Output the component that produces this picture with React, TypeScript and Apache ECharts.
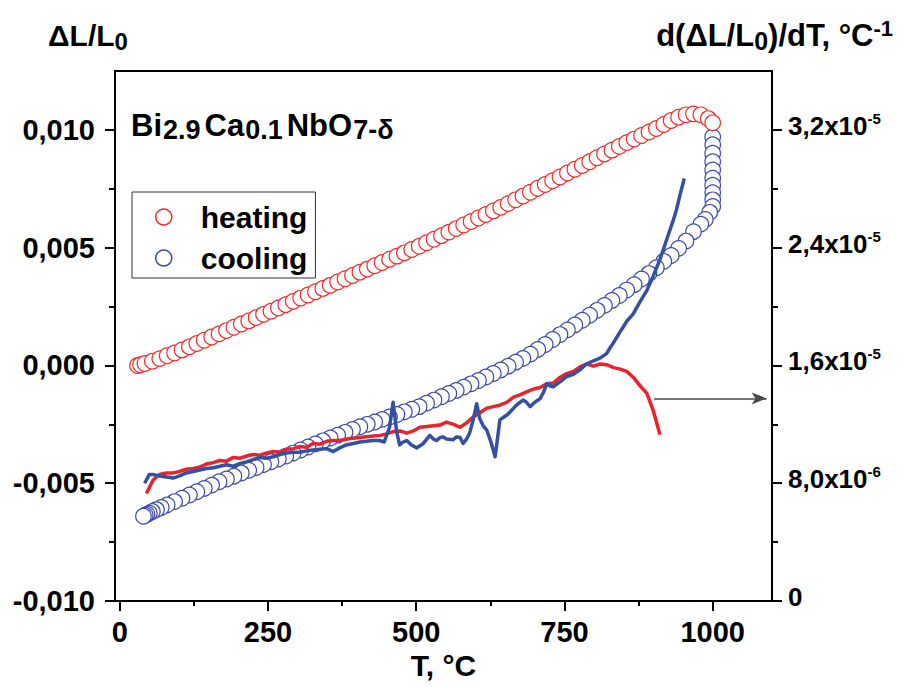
import React, { useEffect, useRef } from 'react';
import * as echarts from 'echarts';

const F = '"Liberation Sans", Arial, Helvetica, sans-serif';

// Heating: dilatometric curve ΔL/L0 (red open circles)
const heatingT = [30, 35, 42.5, 55, 67.5, 80, 92.5, 105, 117.5, 130, 142.5, 155, 167.5, 180, 192.5, 205, 217.5, 230, 242.5, 255, 267.5, 280, 292.5, 305, 317.5, 330, 342.5, 355, 367.5, 380, 392.5, 405, 417.5, 430, 442.5, 455, 467.5, 480, 492.5, 505, 517.5, 530, 542.5, 555, 567.5, 580, 592.5, 605, 617.5, 630, 642.5, 655, 667.5, 680, 692.5, 705, 717.5, 730, 742.5, 755, 767.5, 780, 792.5, 805, 817.5, 830, 842.5, 855, 867.5, 880, 892.5, 905, 917.5, 930, 942.5, 955, 967.5, 980, 992.5, 1000];
const heatingDL = [0, 0.00003, 0.00008, 0.00018, 0.00029, 0.00041, 0.00053, 0.00066, 0.00079, 0.00093, 0.00107, 0.00121, 0.00134, 0.00148, 0.00162, 0.00176, 0.00189, 0.00203, 0.00217, 0.0023, 0.00244, 0.00258, 0.00272, 0.00286, 0.00299, 0.00313, 0.00327, 0.0034, 0.00354, 0.00368, 0.00382, 0.00396, 0.00409, 0.00423, 0.00437, 0.00451, 0.00464, 0.00478, 0.00492, 0.00506, 0.00521, 0.00536, 0.00551, 0.00566, 0.00581, 0.00596, 0.00611, 0.00626, 0.00641, 0.00656, 0.00671, 0.00687, 0.00703, 0.00719, 0.00735, 0.00752, 0.00768, 0.00784, 0.008, 0.00817, 0.00833, 0.00849, 0.00865, 0.00882, 0.00898, 0.00914, 0.0093, 0.00946, 0.00961, 0.00976, 0.00991, 0.01006, 0.01023, 0.0104, 0.01054, 0.01064, 0.01068, 0.01064, 0.01048, 0.0103];

// Cooling: dilatometric curve ΔL/L0 (blue open circles), from 1000 °C down
const coolingT = [1000, 1000, 1000, 1000, 1000, 1000, 1000, 1000, 1000, 1000, 995, 987.5, 980, 967.5, 955, 942.5, 930, 917.5, 905, 892.5, 880, 867.5, 855, 842.5, 830, 817.5, 805, 792.5, 780, 767.5, 755, 742.5, 730, 717.5, 705, 692.5, 680, 667.5, 655, 642.5, 630, 617.5, 605, 592.5, 580, 567.5, 555, 542.5, 530, 517.5, 505, 492.5, 480, 467.5, 455, 442.5, 430, 417.5, 405, 392.5, 380, 367.5, 355, 342.5, 330, 317.5, 305, 292.5, 280, 267.5, 255, 242.5, 230, 217.5, 205, 192.5, 180, 167.5, 155, 142.5, 130, 117.5, 105, 92.5, 80, 70, 62, 55, 50, 46, 43, 40];
const coolingDL = [0.0097, 0.00937, 0.00901, 0.00865, 0.0083, 0.00795, 0.00765, 0.00733, 0.00703, 0.00675, 0.0065, 0.0062, 0.006, 0.00568, 0.00528, 0.00497, 0.00467, 0.00442, 0.00415, 0.0039, 0.00367, 0.00343, 0.0032, 0.00297, 0.00276, 0.00255, 0.00234, 0.00213, 0.00192, 0.00172, 0.00151, 0.00131, 0.0011, 0.00089, 0.00068, 0.00048, 0.0003, 0.00014, -0.00003, -0.00019, -0.00034, -0.00049, -0.00064, -0.00078, -0.00092, -0.00106, -0.00119, -0.00133, -0.00147, -0.0016, -0.00175, -0.00186, -0.00197, -0.00208, -0.00219, -0.00229, -0.0024, -0.0025, -0.0026, -0.00272, -0.00284, -0.00296, -0.00308, -0.0032, -0.00333, -0.00346, -0.00359, -0.00372, -0.00385, -0.00397, -0.00409, -0.00421, -0.00433, -0.00445, -0.00457, -0.0047, -0.00482, -0.00494, -0.00508, -0.00522, -0.00536, -0.0055, -0.00564, -0.00578, -0.00592, -0.00603, -0.00612, -0.0062, -0.00627, -0.00632, -0.00636, -0.0064];

// Derivatives d(ΔL/L0)/dT in units of 1e-6 °C^-1 (right axis)
const derivHeatT = [45, 56, 67, 79, 90, 101, 112, 124, 135, 146, 158, 169, 180, 191, 203, 214, 225, 236, 248, 259, 270, 281, 293, 304, 315, 326, 338, 349, 360, 371, 383, 394, 405, 416, 428, 439, 450, 461, 473, 484, 495, 506, 518, 529, 540, 551, 563, 574, 585, 596, 608, 619, 630, 641, 653, 664, 675, 686, 698, 709, 720, 731, 743, 754, 765, 776, 788, 799, 810, 821, 833, 844, 855, 866, 878, 889, 900, 911];
const derivHeat = [7.3, 8.2, 8.6, 8.7, 8.7, 8.8, 8.95, 9.0, 9.1, 9.3, 9.4, 9.55, 9.5, 9.75, 9.7, 9.85, 9.95, 9.9, 10.05, 10.15, 10.1, 10.3, 10.35, 10.5, 10.45, 10.7, 10.65, 10.85, 10.9, 10.9, 11.0, 11.05, 11.1, 11.15, 11.2, 11.25, 11.35, 11.5, 11.55, 11.4, 11.55, 11.8, 11.85, 11.9, 11.95, 12.15, 12.0, 11.8, 12.1, 12.5, 12.8, 13.1, 13.2, 13.3, 13.5, 13.85, 14.0, 14.2, 14.4, 14.5, 14.75, 14.8, 15.2, 15.45, 15.6, 15.9, 16.1, 15.95, 16.1, 16.05, 15.85, 15.75, 15.6, 15.2, 14.6, 14.1, 12.9, 11.3];

const derivCoolT = [42, 50, 56, 65, 73, 82, 90, 101, 112, 124, 135, 146, 158, 169, 180, 191, 203, 214, 225, 236, 248, 259, 270, 281, 293, 304, 315, 326, 338, 349, 360, 371, 382, 394, 405, 416, 427, 438, 446, 455, 461, 467, 472, 478, 484, 492, 501, 512, 523, 529, 534, 540, 545, 551, 562, 568, 574, 579, 585, 590, 596, 602, 607, 613, 619, 626, 633, 637, 641, 648, 655, 662, 669, 680, 686, 692, 700, 709, 715, 720, 726, 731, 743, 754, 765, 776, 787, 798, 804, 810, 821, 827, 832, 838, 844, 849, 855, 866, 877, 889, 900, 911, 922, 933, 939, 945, 952];
const derivCool = [8.0, 8.6, 8.6, 8.5, 8.45, 8.4, 8.35, 8.5, 8.7, 8.8, 8.9, 9.0, 9.05, 9.15, 9.25, 9.15, 9.35, 9.45, 9.6, 9.75, 9.7, 9.8, 9.95, 10.05, 10.1, 10.1, 10.2, 10.25, 10.3, 10.35, 10.15, 10.4, 10.6, 10.7, 10.8, 10.85, 10.9, 10.9, 10.8, 11.8, 13.5, 11.5, 10.6, 10.8, 10.9, 10.6, 10.4, 10.7, 11.25, 11.0, 10.9, 11.1, 11.15, 11.0, 10.95, 11.15, 11.1, 10.7, 11.0, 11.4, 12.3, 13.4, 12.4, 11.9, 11.6, 10.8, 9.8, 11.0, 12.3, 12.5, 12.7, 13.0, 13.3, 13.65, 13.5, 13.2, 13.5, 13.75, 14.2, 14.75, 14.6, 14.55, 14.9, 15.25, 15.4, 15.7, 16.1, 16.3, 16.4, 16.5, 16.8, 17.2, 17.5, 17.9, 18.3, 18.6, 19.0, 19.5, 20.3, 21.1, 22.1, 23.2, 24.5, 25.8, 26.6, 27.6, 28.7];

// Axis ticks and labels
const xMajorTicks = [0, 250, 500, 750, 1000];
const xMinorTicks = [125, 375, 625, 875];
const leftMajorTicks = [-0.01, -0.005, 0, 0.005, 0.01];
const leftMinorTicks = [-0.0075, -0.0025, 0.0025, 0.0075];
const rightMajorTicks = [0, 8, 16, 24, 32];
const rightMinorTicks = [4, 12, 20, 28];
const rightTickLabels = ['0', '8,0x10{s|-6}', '1,6x10{s|-5}', '2,4x10{s|-5}', '3,2x10{s|-5}'];

// Arrow pointing to the right axis
const arrowFromT = 901;
const arrowToT = 1091;
const arrowLevel = 13.76;

const RED_C = '#f22a2a';
const BLUE_C = '#3b4aa6';
const RED_L = '#e8232a';
const BLUE_L = '#3350a3';

const X_MIN = -8;
const X_MAX = 1100;
const YL_MIN = -0.01;
const YL_MAX = 0.0125;
const YR_MIN = 0;
const YR_MAX = 36;

export default function App() {
  const ref = useRef<HTMLDivElement>(null);
  useEffect(() => {
    if (!ref.current) return;
    const chart = echarts.init(ref.current, undefined, { renderer: 'svg' });
    const axisLineStyle = { color: '#000', width: 2 };
    const labelBase = { color: '#000', fontFamily: F, fontWeight: 'bold' as const };
    const minorAxisCommon = {
      axisLine: { show: false, onZero: false },
      axisLabel: { show: false },
      splitLine: { show: false },
    };
    const option: any = {
      animation: false,
      textStyle: { fontFamily: F },
      grid: {
        left: 115, top: 71, width: 657, height: 530,
        show: true, borderColor: '#000', borderWidth: 2, backgroundColor: 'transparent',
      },
      legend: {
        data: [
          { name: 'heating', icon: 'circle', itemStyle: { color: '#fff', borderColor: RED_C, borderWidth: 1.5 } },
          { name: 'cooling', icon: 'circle', itemStyle: { color: '#fff', borderColor: BLUE_C, borderWidth: 1.5 } },
        ],
        orient: 'vertical',
        left: 132, top: 192,
        itemWidth: 16, itemHeight: 16, itemGap: 11,
        padding: [10, 8, 5, 23],
        borderColor: '#333', borderWidth: 1,
        selectedMode: false,
        textStyle: { ...labelBase, fontSize: 30, lineHeight: 30, padding: [0, 0, 0, 24] },
      },
      xAxis: [
        {
          type: 'value', min: X_MIN, max: X_MAX, position: 'bottom',
          axisLine: { show: true, onZero: false, lineStyle: axisLineStyle },
          axisTick: { show: true, customValues: xMajorTicks, length: 10, lineStyle: axisLineStyle },
          axisLabel: {
            ...labelBase, customValues: xMajorTicks, fontSize: 29, margin: 16,
            formatter: (v: number) => String(Math.round(v)),
          },
          splitLine: { show: false },
          name: 'T, °C', nameLocation: 'middle', nameGap: 48,
          nameTextStyle: { ...labelBase, fontSize: 30 },
        },
        {
          type: 'value', min: X_MIN, max: X_MAX, position: 'bottom',
          ...minorAxisCommon,
          axisTick: { show: true, customValues: xMinorTicks, length: 5, lineStyle: axisLineStyle },
        },
      ],
      yAxis: [
        {
          type: 'value', min: YL_MIN, max: YL_MAX, position: 'left',
          axisLine: { show: true, onZero: false, lineStyle: axisLineStyle },
          axisTick: { show: true, customValues: leftMajorTicks, length: 10, lineStyle: axisLineStyle },
          axisLabel: {
            ...labelBase, customValues: leftMajorTicks, fontSize: 29, margin: 20,
            formatter: (v: number) => v.toFixed(3).replace('.', ','),
          },
          splitLine: { show: false },
        },
        {
          type: 'value', min: YR_MIN, max: YR_MAX, position: 'right',
          axisLine: { show: true, onZero: false, lineStyle: axisLineStyle },
          axisTick: { show: true, customValues: rightMajorTicks, length: 10, lineStyle: axisLineStyle },
          axisLabel: {
            ...labelBase, customValues: rightMajorTicks, fontSize: 26, lineHeight: 30, margin: 16,
            padding: [0, 0, 8, 0],
            formatter: (v: number) => {
              const i = rightMajorTicks.findIndex((t) => Math.abs(t - v) < 1e-6);
              return i >= 0 ? rightTickLabels[i] : '';
            },
            rich: {
              s: { ...labelBase, fontSize: 15, lineHeight: 12, verticalAlign: 'top' },
            },
          },
          splitLine: { show: false },
        },
        {
          type: 'value', min: YL_MIN, max: YL_MAX, position: 'left',
          ...minorAxisCommon,
          axisTick: { show: true, customValues: leftMinorTicks, length: 6, lineStyle: axisLineStyle },
        },
        {
          type: 'value', min: YR_MIN, max: YR_MAX, position: 'right',
          ...minorAxisCommon,
          axisTick: { show: true, customValues: rightMinorTicks, length: 6, lineStyle: axisLineStyle },
        },
      ],
      graphic: [
        {
          type: 'text', x: 48, y: 17, silent: true,
          style: {
            text: '{m|ΔL/L}{s|0}',
            align: 'left', verticalAlign: 'top',
            rich: {
              m: { ...labelBase, fill: '#000', fontSize: 30, lineHeight: 36 },
              s: { ...labelBase, fill: '#000', fontSize: 24, lineHeight: 16, verticalAlign: 'bottom' },
            },
          },
        },
        {
          type: 'text', x: 893, y: 17, silent: true,
          style: {
            text: '{m|d(ΔL/L}{s|0}{m|)/dT, °C}{p|-1}',
            align: 'right', verticalAlign: 'top',
            rich: {
              m: { ...labelBase, fill: '#000', fontSize: 31, lineHeight: 36 },
              s: { ...labelBase, fill: '#000', fontSize: 25, lineHeight: 16, verticalAlign: 'bottom' },
              p: { ...labelBase, fill: '#000', fontSize: 22, lineHeight: 16, verticalAlign: 'top' },
            },
          },
        },
        {
          type: 'text', x: 131, y: 107, silent: true,
          style: {
            text: '{m|Bi}{s|2.9}{m|Ca}{s|0.1}{m|NbO}{s|7-δ}',
            align: 'left', verticalAlign: 'top',
            rich: {
              m: { ...labelBase, fill: '#000', fontSize: 31, lineHeight: 36 },
              s: { ...labelBase, fill: '#000', fontSize: 27, lineHeight: 16, verticalAlign: 'bottom', padding: [0, 4, 0, 1] },
            },
          },
        },
      ],
      series: [
        {
          name: 'cooling', type: 'scatter', xAxisIndex: 0, yAxisIndex: 0,
          symbol: 'circle', symbolSize: 15.5,
          itemStyle: { color: '#fff', borderColor: BLUE_C, borderWidth: 1.2, opacity: 1 },
          data: coolingT.map((t, i) => [t, coolingDL[i]]),
          silent: true,
        },
        {
          name: 'heating', type: 'scatter', xAxisIndex: 0, yAxisIndex: 0,
          symbol: 'circle', symbolSize: 15.5,
          itemStyle: { color: '#fff', borderColor: RED_C, borderWidth: 1.2, opacity: 1 },
          data: heatingT.map((t, i) => [t, heatingDL[i]]),
          silent: true,
        },
        {
          name: 'dHeat', type: 'line', xAxisIndex: 0, yAxisIndex: 1,
          showSymbol: false, symbol: 'none', smooth: false,
          lineStyle: { color: RED_L, width: 3.5, join: 'round' },
          data: derivHeatT.map((t, i) => [t, derivHeat[i]]),
          silent: true,
          markLine: {
            silent: true,
            symbol: ['none', 'arrow'],
            symbolSize: [9, 15],
            label: { show: false },
            lineStyle: { color: '#4a4a4a', width: 1.5, type: 'solid' },
            emphasis: { disabled: true },
            data: [[{ coord: [arrowFromT, arrowLevel] }, { coord: [arrowToT, arrowLevel] }]],
          },
        },
        {
          name: 'dCool', type: 'line', xAxisIndex: 0, yAxisIndex: 1,
          showSymbol: false, symbol: 'none', smooth: false,
          lineStyle: { color: BLUE_L, width: 3.5, join: 'round' },
          data: derivCoolT.map((t, i) => [t, derivCool[i]]),
          silent: true,
        },
      ],
    };
    chart.setOption(option);
    return () => chart.dispose();
  }, []);
  return (
    <div
      ref={ref}
      style={{ position: 'absolute', left: 0, top: 0, width: 904, height: 687, background: '#fff' }}
    />
  );
}
